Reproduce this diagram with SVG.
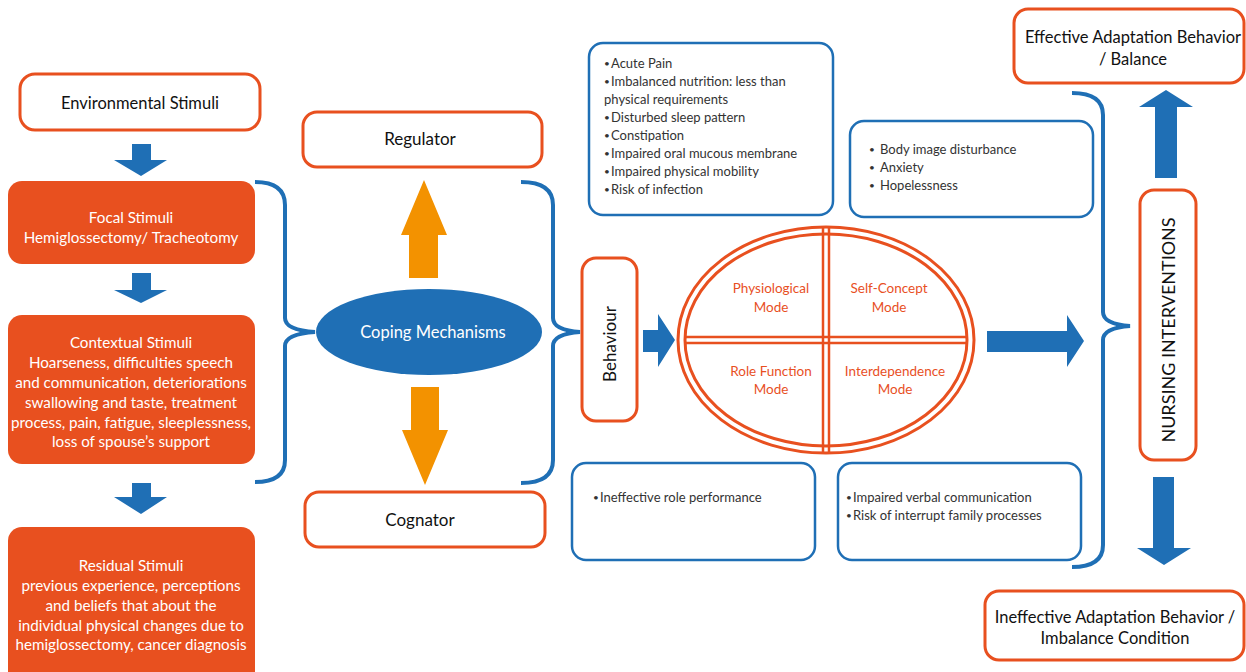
<svg xmlns="http://www.w3.org/2000/svg" width="1246" height="672" viewBox="0 0 1246 672">
<style>
.ob{fill:#fff;stroke:#E8501F;stroke-width:3}
.of{fill:#E8501F;stroke:none}
.bb{fill:#fff;stroke:#1F6FB5;stroke-width:2.5}
.br{fill:none;stroke:#1F6FB5;stroke-width:4}
.ba{fill:#1F6FB5}
.ya{fill:#F39200}
.t{font-family:Lato,"Open Sans",sans-serif;font-size:16.5px;fill:#111;text-anchor:middle}
.w{font-family:Lato,"Open Sans",sans-serif;font-size:15.2px;fill:#fff;text-anchor:middle}
.m{font-family:Lato,"Open Sans",sans-serif;font-size:13.5px;fill:#E8501F;text-anchor:middle}
.l{font-family:Lato,"Open Sans",sans-serif;font-size:13px;fill:#333}
.d{font-family:Lato,"Open Sans",sans-serif;font-size:10px;fill:#333}
</style>
<g id="connectors">
<polygon class="ba" points="132,144 151,144 151,160 167,160 141,176 114,160 132,160"/>
<polygon class="ba" points="132,273 151,273 151,290 167,290 141,303 114,290 132,290"/>
<polygon class="ba" points="132,483 151,483 151,497 167,497 141,514 114,497 132,497"/>
<path class="br" d="M255,182 Q285,182 285,205 L285,318 Q285,330 315,332 Q285,334 285,346 L285,460 Q285,482 255,482"/>
<path class="br" d="M521,182 Q553,182 553,205 L553,318 Q553,330 580,332 Q553,334 553,346 L553,460 Q553,483 521,483"/>
<path class="br" d="M1072,93 Q1103,93 1103,115 L1103,312 Q1103,324 1130,326 Q1103,328 1103,340 L1103,545 Q1103,567 1072,567"/>
<polygon class="ya" points="409,278 438,278 438,235 447,235 424,180 401,235 409,235"/>
<polygon class="ya" points="411,387 439,387 439,430 448,430 425,485 402,430 411,430"/>
<polygon class="ba" points="643,330 658,330 658,314 675,340 658,367 658,352 643,352"/>
<polygon class="ba" points="987,331 1067,331 1067,315 1084,341 1067,367 1067,352 987,352"/>
<polygon class="ba" points="1155,178 1177,178 1177,107 1193,107 1166,90 1139,107 1155,107"/>
<polygon class="ba" points="1153,477 1174,477 1174,548 1191,548 1164,565 1137,548 1153,548"/>
</g>
<g id="environmental">
<rect class="ob" x="20" y="74" width="240" height="56" rx="15"/>
<text class="t" x="140" y="109">Environmental Stimuli</text>
</g>
<g id="focal">
<rect class="of" x="8" y="181" width="247" height="83" rx="14"/>
<text class="w" x="131" y="223">Focal Stimuli</text>
<text class="w" x="131" y="243">Hemiglossectomy/ Tracheotomy</text>
</g>
<g id="contextual">
<rect class="of" x="8" y="315" width="247" height="149" rx="14"/>
<text class="w" x="131" y="348">Contextual Stimuli</text>
<text class="w" x="131" y="368">Hoarseness, difficulties speech</text>
<text class="w" x="131" y="388">and communication, deteriorations</text>
<text class="w" x="131" y="408">swallowing and taste, treatment</text>
<text class="w" x="131" y="428">process, pain, fatigue, sleeplessness,</text>
<text class="w" x="131" y="447">loss of spouse’s support</text>
</g>
<g id="residual">
<rect class="of" x="8" y="527" width="247" height="160" rx="14"/>
<text class="w" x="131" y="571">Residual Stimuli</text>
<text class="w" x="131" y="591">previous experience, perceptions</text>
<text class="w" x="131" y="611">and beliefs that about the</text>
<text class="w" x="131" y="631">individual physical changes due to</text>
<text class="w" x="131" y="650">hemiglossectomy, cancer diagnosis</text>
</g>
<g id="regulator">
<rect class="ob" x="303" y="112" width="239" height="55" rx="14"/>
<text class="t" x="420" y="145" style="font-size:17px">Regulator</text>
</g>
<g id="coping">
<ellipse cx="429" cy="332" rx="113" ry="43" fill="#1F6FB5"/>
<text class="w" x="433" y="338" style="font-size:16.5px">Coping Mechanisms</text>
</g>
<g id="cognator">
<rect class="ob" x="305" y="492" width="240" height="55" rx="14"/>
<text class="t" x="420" y="526" style="font-size:17px">Cognator</text>
</g>
<g id="behaviour">
<rect class="ob" x="582" y="258" width="55" height="163" rx="14"/>
<text class="t" transform="translate(616,344) rotate(-90)" style="font-size:17px">Behaviour</text>
</g>
<g id="modes">
<ellipse cx="826" cy="340" rx="148" ry="113" fill="none" stroke="#E8501F" stroke-width="3"/>
<ellipse cx="826" cy="340" rx="141" ry="106" fill="none" stroke="#E8501F" stroke-width="3"/>
<line x1="823" y1="228" x2="823" y2="452" stroke="#E8501F" stroke-width="2.5"/>
<line x1="829" y1="228" x2="829" y2="452" stroke="#E8501F" stroke-width="2.5"/>
<line x1="685" y1="337" x2="967" y2="337" stroke="#E8501F" stroke-width="2.5"/>
<line x1="685" y1="343" x2="967" y2="343" stroke="#E8501F" stroke-width="2.5"/>
<text class="m" x="771" y="293">Physiological</text>
<text class="m" x="771" y="312">Mode</text>
<text class="m" x="889" y="293">Self-Concept</text>
<text class="m" x="889" y="312">Mode</text>
<text class="m" x="771" y="376">Role Function</text>
<text class="m" x="771" y="394">Mode</text>
<text class="m" x="895" y="376">Interdependence</text>
<text class="m" x="895" y="394">Mode</text>
</g>
<g id="physiological-dx">
<rect class="bb" x="589" y="43" width="244" height="172" rx="14"/>
<text class="d" x="604" y="67">•</text><text class="l" x="611" y="68">Acute Pain</text>
<text class="d" x="604" y="85">•</text><text class="l" x="611" y="86">Imbalanced nutrition: less than</text>
<text class="l" x="604" y="104">physical requirements</text>
<text class="d" x="604" y="121">•</text><text class="l" x="611" y="122">Disturbed sleep pattern</text>
<text class="d" x="604" y="139">•</text><text class="l" x="611" y="140">Constipation</text>
<text class="d" x="604" y="157">•</text><text class="l" x="611" y="158">Impaired oral mucous membrane</text>
<text class="d" x="604" y="175">•</text><text class="l" x="611" y="176">Impaired physical mobility</text>
<text class="d" x="604" y="193">•</text><text class="l" x="611" y="194">Risk of infection</text>
</g>
<g id="selfconcept-dx">
<rect class="bb" x="850" y="121" width="243" height="96" rx="14"/>
<text class="d" x="869" y="153">•</text><text class="l" x="880" y="154">Body image disturbance</text>
<text class="d" x="869" y="171">•</text><text class="l" x="880" y="172">Anxiety</text>
<text class="d" x="869" y="189">•</text><text class="l" x="880" y="190">Hopelessness</text>
</g>
<g id="role-dx">
<rect class="bb" x="572" y="463" width="243" height="97" rx="14"/>
<text class="d" x="593" y="501">•</text><text class="l" x="600" y="502">Ineffective role performance</text>
</g>
<g id="interdependence-dx">
<rect class="bb" x="838" y="463" width="243" height="97" rx="14"/>
<text class="d" x="846" y="501">•</text><text class="l" x="853" y="502">Impaired verbal communication</text>
<text class="d" x="846" y="519">•</text><text class="l" x="853" y="520">Risk of interrupt family processes</text>
</g>
<g id="nursing">
<rect class="ob" x="1140" y="190" width="56" height="270" rx="14"/>
<text class="t" transform="translate(1175,330) rotate(-90)" style="font-size:18px">NURSING INTERVENTIONS</text>
</g>
<g id="effective">
<rect class="ob" x="1014" y="9" width="230" height="74" rx="14"/>
<text class="t" x="1133" y="43">Effective Adaptation Behavior</text>
<text class="t" x="1133" y="65">/ Balance</text>
</g>
<g id="ineffective">
<rect class="ob" x="985" y="591" width="259" height="69" rx="14"/>
<text class="t" x="1115" y="623">Ineffective Adaptation Behavior /</text>
<text class="t" x="1115" y="644">Imbalance Condition</text>
</g>
</svg>
